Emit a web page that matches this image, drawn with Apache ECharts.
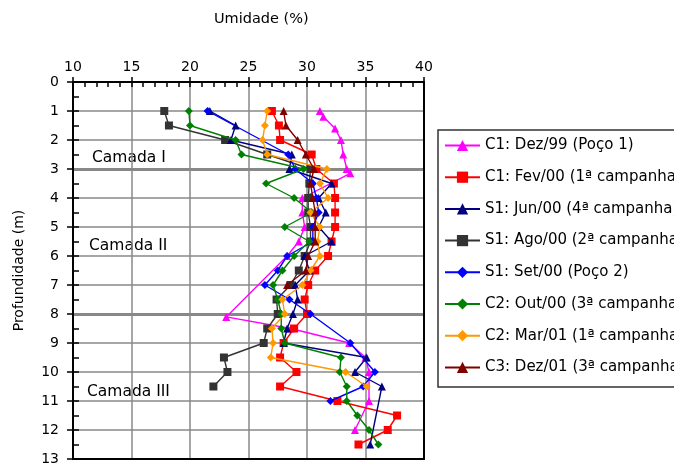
<!DOCTYPE html>
<html><head><meta charset="utf-8">
<script src="https://cdn.jsdelivr.net/npm/echarts@6/dist/echarts.min.js"></script>
<style>html,body{margin:0;padding:0;background:#fff}#c{width:674px;height:466px}</style>
</head><body><div id="c"></div>
<script>
// ---- data ----
const xTicks = [10, 15, 20, 25, 30, 35, 40];
const xTitle = 'Umidade (%)';
const yTitle = 'Profundidade (m)';
const seriesNames = [
  'C1: Dez/99 (Poço 1)', 'C1: Fev/00 (1ª campanha)', 'S1: Jun/00 (4ª campanha)',
  'S1: Ago/00 (2ª campanha)', 'S1: Set/00 (Poço 2)', 'C2: Out/00 (3ª campanha)',
  'C2: Mar/01 (1ª campanha)', 'C3: Dez/01 (3ª campanha)'
];
const layerNames = ['Camada I', 'Camada II', 'Camada III'];
const layerBounds = [3, 8];

const dez99Depth = [1.0,1.2,1.6,2.0,2.5,3.0,3.15,4.0,4.5,5.0,5.5,6.0,8.1,8.5,9.0,9.5,10.0,11.0,12.0];
const dez99Val   = [31.1,31.4,32.4,32.9,33.1,33.4,33.7,29.6,29.6,29.8,29.3,28.3,23.1,28.6,33.6,35.0,35.3,35.3,34.1];

const fev00Depth = [1,1.5,2,2.5,3,3.5,4,4.5,5,5.5,6,6.5,7,7.5,8,8.5,9,9.5,10,10.5,11,11.5,12,12.5];
const fev00Val   = [27.0,27.6,27.7,30.4,30.8,32.3,32.4,32.4,32.4,32.1,31.8,30.7,30.1,29.8,30.0,28.9,28.0,27.7,29.1,27.7,32.6,37.7,36.9,34.4];

const jun00Depth = [1,1.5,2,2.5,3,3.5,4,4.5,5,5.5,6,6.5,7,7.5,8,8.5,9,9.5,10,10.5,12.5];
const jun00Val   = [21.7,23.9,23.5,28.7,28.5,32.1,31.0,31.6,31.0,32.1,29.8,30.2,29.0,29.2,28.8,28.3,28.0,35.1,34.1,36.4,35.4];

const ago00Depth = [1,1.5,2,2.5,3,3.5,4,4.5,5,5.5,6,6.5,7,7.5,8,8.5,9,9.5,10,10.5];
const ago00Val   = [17.8,18.2,23.0,26.6,30.3,30.2,30.1,30.1,30.3,30.3,29.8,29.3,28.6,27.4,27.5,26.6,26.3,22.9,23.2,22.0];

const set00Depth = [1,2.5,3,3.5,4,4.5,5,5.5,6,6.5,7,7.5,8,9,10,10.5,11];
const set00Val   = [21.5,28.4,29.0,30.5,30.8,31.0,30.5,30.5,28.3,27.5,26.4,28.5,30.3,33.7,35.8,34.8,32.0];

const out00Depth = [1,1.5,2,2.5,3,3.5,4,4.5,5,5.5,6,6.5,7,7.5,8,8.5,9,9.5,10,10.5,11,11.5,12,12.5];
const out00Val   = [19.9,20.0,23.9,24.4,29.7,26.5,28.9,30.4,28.1,30.2,28.9,27.9,27.1,27.5,27.8,27.8,28.1,32.9,32.8,33.4,33.4,34.3,35.3,36.1];

const mar01Depth = [1,1.5,2,2.5,3,3.5,4,4.5,5,5.5,6,6.5,7,7.5,8,8.5,9,9.5,10,10.5];
const mar01Val   = [26.6,26.4,26.2,26.6,31.7,31.1,31.8,30.3,31.1,30.9,31.1,30.3,29.6,27.9,28.1,27.0,27.1,26.9,33.3,35.1];

const dez01Depth = [1,1.5,2,2.5,3,3.5,4,4.5,5,5.5,6,6.5,7];
const dez01Val   = [28.0,28.2,29.2,29.9,30.6,30.3,30.5,30.7,30.7,30.7,30.1,29.9,28.3];

// ---- build ----
const pairs = (d, v) => d.map((y, i) => [v[i], y]);
const styles = [
  {c:'#FF00FF', s:'triangle', z:6},
  {c:'#FF0000', s:'rect', z:7},
  {c:'#000080', s:'triangle', z:8},
  {c:'#333333', s:'rect', z:7},
  {c:'#0000FF', s:'diamond', z:8},
  {c:'#008000', s:'diamond', z:9},
  {c:'#FF9900', s:'diamond', z:9},
  {c:'#800000', s:'triangle', z:9}
];
const dataSets = [
  pairs(dez99Depth, dez99Val), pairs(fev00Depth, fev00Val), pairs(jun00Depth, jun00Val),
  pairs(ago00Depth, ago00Val), pairs(set00Depth, set00Val), pairs(out00Depth, out00Val),
  pairs(mar01Depth, mar01Val), pairs(dez01Depth, dez01Val)
];
const FONT = '"DejaVu Sans", Arial, sans-serif';
const series = dataSets.map((d, i) => ({
  name: seriesNames[i], type: 'line', data: d, xAxisIndex: 0, yAxisIndex: 0,
  symbol: styles[i].s, symbolSize: 8, z: styles[i].z,
  lineStyle: {color: styles[i].c, width: 1.4},
  itemStyle: {color: styles[i].c, borderColor: styles[i].c, borderWidth: 0},
  emphasis: {disabled: true}, animation: false
}));
series.push({
  type: 'line', data: [], xAxisIndex: 0, yAxisIndex: 0, z: 4,
  markLine: {silent: true, symbol: 'none', label: {show: false}, animation: false,
    lineStyle: {color: '#888888', width: 3, type: 'solid'},
    data: layerBounds.map(b => ({yAxis: b}))}
});

const chart = echarts.init(document.getElementById('c'));
chart.setOption({
  animation: false,
  textStyle: {fontFamily: FONT},
  grid: {left: 73, top: 82, width: 351, height: 381, show: true, borderColor: '#000', borderWidth: 2, z: 10},
  xAxis: [{
    type: 'value', position: 'top', min: xTicks[0], max: xTicks[xTicks.length-1], interval: 5,
    axisLine: {show: true, lineStyle: {color: '#000', width: 2}},
    axisTick: {show: true, inside: false, length: 5, lineStyle: {color: '#000', width: 1.5}},
    axisLabel: {fontSize: 14, color: '#000', margin: 8, fontFamily: FONT},
    splitLine: {show: true, lineStyle: {color: '#888888', width: 1.5}}
  }, {
    type: 'value', position: 'top', min: 10, max: 40, interval: 1,
    axisLine: {show: false}, axisLabel: {show: false}, splitLine: {show: false},
    axisTick: {show: true, inside: true, length: 5, lineStyle: {color: '#000', width: 1.5}}
  }],
  yAxis: [{
    type: 'value', inverse: true, min: 0, max: 13, interval: 1, position: 'left',
    name: yTitle, nameLocation: 'middle', nameGap: 47,
    nameTextStyle: {fontSize: 14, color: '#000', fontFamily: FONT},
    axisLine: {show: true, lineStyle: {color: '#000', width: 2}},
    axisTick: {show: true, inside: false, length: 6, lineStyle: {color: '#000', width: 1.5}},
    axisLabel: {fontSize: 14, color: '#000', margin: 14, fontFamily: FONT},
    splitLine: {show: true, lineStyle: {color: '#888888', width: 1.5}}
  }, {
    type: 'value', inverse: true, min: 0, max: 13, interval: 0.5, position: 'left',
    axisLine: {show: false}, axisLabel: {show: false}, splitLine: {show: false},
    axisTick: {show: true, inside: true, length: 6, lineStyle: {color: '#000', width: 1.5}}
  }],
  legend: {
    orient: 'vertical', left: 438, top: 130,
    padding: [8, 10, 12, 6], itemWidth: 35, itemHeight: 14, itemGap: 16.7,
    borderColor: '#333', borderWidth: 1.5, backgroundColor: '#fff',
    textStyle: {fontSize: 15, color: '#000', fontFamily: FONT},
    data: seriesNames
  },
  graphic: [
    {type: 'text', left: 214, top: 12, style: {text: xTitle, font: '14.5px ' + FONT, fill: '#000'}},
    {type: 'text', left: 92, top: 150, style: {text: layerNames[0], font: '15.5px ' + FONT, fill: '#000'}},
    {type: 'text', left: 89, top: 238, style: {text: layerNames[1], font: '15.5px ' + FONT, fill: '#000'}},
    {type: 'text', left: 87, top: 384, style: {text: layerNames[2], font: '15.5px ' + FONT, fill: '#000'}}
  ],
  series: series
});
</script></body></html>
